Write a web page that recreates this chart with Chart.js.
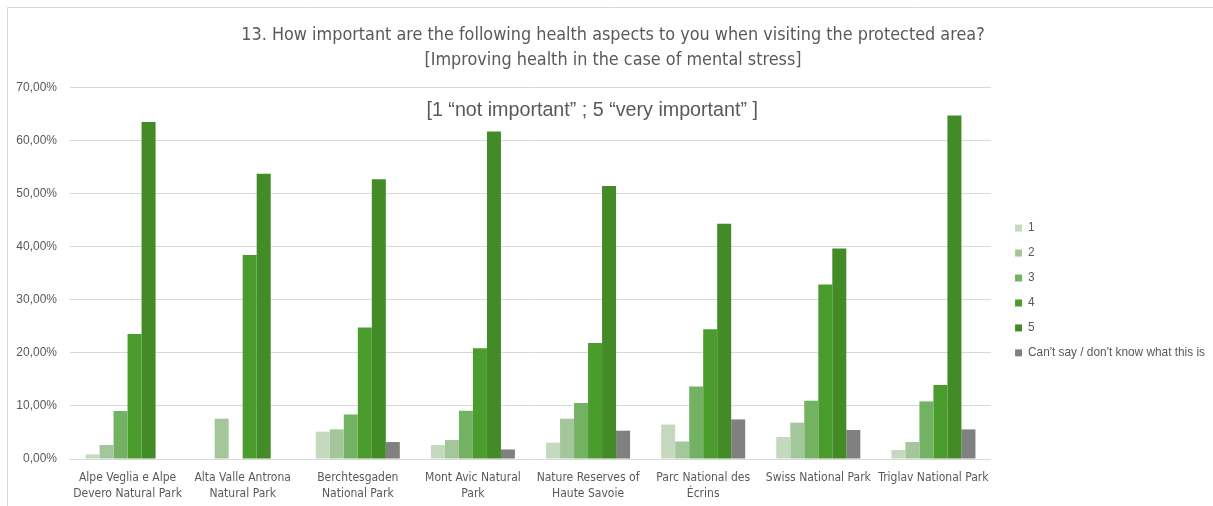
<!DOCTYPE html>
<html><head><meta charset="utf-8">
<script src="https://cdn.jsdelivr.net/npm/chart.js@4/dist/chart.umd.min.js"></script>
<style>html,body{margin:0;padding:0;background:#fff;overflow:hidden}#wrap{width:1213px;height:506px}</style>
</head><body><div id="wrap"><canvas id="c" width="1213" height="506"></canvas></div>
<script>
const categories = [
  ["Alpe Veglia e Alpe", "Devero Natural Park"],
  ["Alta Valle Antrona", "Natural Park"],
  ["Berchtesgaden", "National Park"],
  ["Mont Avic Natural", "Park"],
  ["Nature Reserves of", "Haute Savoie"],
  ["Parc National des", "Écrins"],
  "Swiss National Park",
  "Triglav National Park"
];
const seriesNames = ["1", "2", "3", "4", "5", "Can't say / don't know what this is"];
const rating1 = [0.87, 0, 5.15, 2.64, 3.08, 6.50, 4.15, 1.70];
const rating2 = [2.64, 7.60, 5.60, 3.58, 7.60, 3.30, 6.85, 3.20];
const rating3 = [9.06, 0, 8.40, 9.10, 10.57, 13.70, 11.00, 10.87];
const rating4 = [23.58, 38.50, 24.80, 20.90, 21.90, 24.50, 32.90, 13.96];
const rating5 = [63.58, 53.80, 52.80, 61.80, 51.50, 44.40, 39.70, 64.80];
const cantSay = [0, 0, 3.20, 1.80, 5.34, 7.47, 5.47, 5.58];
const yTicks = [0, 10, 20, 30, 40, 50, 60, 70];
const titleLines = ["13. How important are the following health aspects to you when visiting the protected area?", "[Improving health in the case of mental stress]"];
const scaleNote = "[1 \u201cnot important\u201d ; 5 \u201cvery important\u201d ]";

const colors = ["#c5d9bf", "#a3c79a", "#74b263", "#4a9d2c", "#428b27", "#808080"];
const seriesValues = [rating1, rating2, rating3, rating4, rating5, cantSay];
const TXT = "#595959";
const NARROW = "'DejaVu Sans Condensed', 'Liberation Sans Narrow', 'Liberation Sans', sans-serif";

const frame = {
  id: 'frame',
  afterLayout(chart) {
    const lg = chart.legend, a = chart.chartArea;
    if (lg) {
      const dx = (a.right + 11) - lg.left;
      lg.left += dx; lg.right += dx;
      lg.top += 17; lg.bottom += 17;
    }
    const tb = chart.titleBlock;
    if (tb) { tb.left += 7; tb.right += 7; }
  },
  beforeDraw(chart) {
    const c = chart.ctx;
    c.save();
    c.fillStyle = '#fff';
    c.fillRect(0, 0, chart.width, chart.height);
    c.strokeStyle = '#d9d9d9';
    c.lineWidth = 1;
    c.beginPath();
    c.moveTo(7.5, chart.height + 5);
    c.lineTo(7.5, 7.5);
    c.lineTo(chart.width + 5, 7.5);
    c.stroke();
    c.restore();
  },
  afterDatasetsDraw(chart) {
    const c = chart.ctx;
    const a = chart.chartArea;
    c.save();
    c.fillStyle = TXT;
    c.font = "19.7px 'Liberation Sans', sans-serif";
    c.textAlign = 'center';
    c.textBaseline = 'middle';
    c.fillText(scaleNote, a.left + a.width * 0.567, a.top + 23);
    c.restore();
  }
};

new Chart(document.getElementById('c'), {
  type: 'bar',
  data: {
    labels: categories,
    datasets: seriesNames.map((n, i) => ({
      label: n,
      data: seriesValues[i],
      backgroundColor: colors[i],
      borderWidth: 0,
      categoryPercentage: 0.73,
      barPercentage: 1.0
    }))
  },
  options: {
    responsive: false,
    devicePixelRatio: 1,
    animation: false,
    layout: { padding: { left: 8, right: 9, top: 23, bottom: 4 } },
    plugins: {
      tooltip: { enabled: false },
      title: {
        display: true,
        text: titleLines,
        color: TXT,
        font: { family: NARROW, size: 17.85, weight: 'normal', lineHeight: 1.4 },
        padding: { top: 0, bottom: 15 }
      },
      legend: {
        position: 'right',
        fullSize: false,
        align: 'center',
        labels: {
          color: TXT,
          boxWidth: 7,
          boxHeight: 7,
          padding: 13.1,
          font: { family: "'Liberation Sans', sans-serif", size: 11.85 }
        }
      }
    },
    scales: {
      x: {
        grid: { display: false, drawTicks: false },
        border: { display: true, color: '#d9d9d9' },
        ticks: {
          color: TXT,
          maxRotation: 0,
          autoSkip: false,
          padding: 11,
          font: { family: NARROW, size: 12, lineHeight: 1.333 }
        },
        afterFit(s) { s.height = 43; }
      },
      y: {
        min: 0,
        max: 70,
        afterBuildTicks(s) { s.ticks = yTicks.map(v => ({ value: v })); },
        grid: { color: '#d9d9d9', drawTicks: false },
        border: { display: false },
        ticks: {
          color: TXT,
          padding: 13,
          font: { family: "'Liberation Sans', sans-serif", size: 12 },
          callback: v => v.toFixed(2).replace('.', ',') + '%'
        },
        afterFit(s) { s.width = 62; }
      }
    }
  },
  plugins: [frame]
});
</script></body></html>
